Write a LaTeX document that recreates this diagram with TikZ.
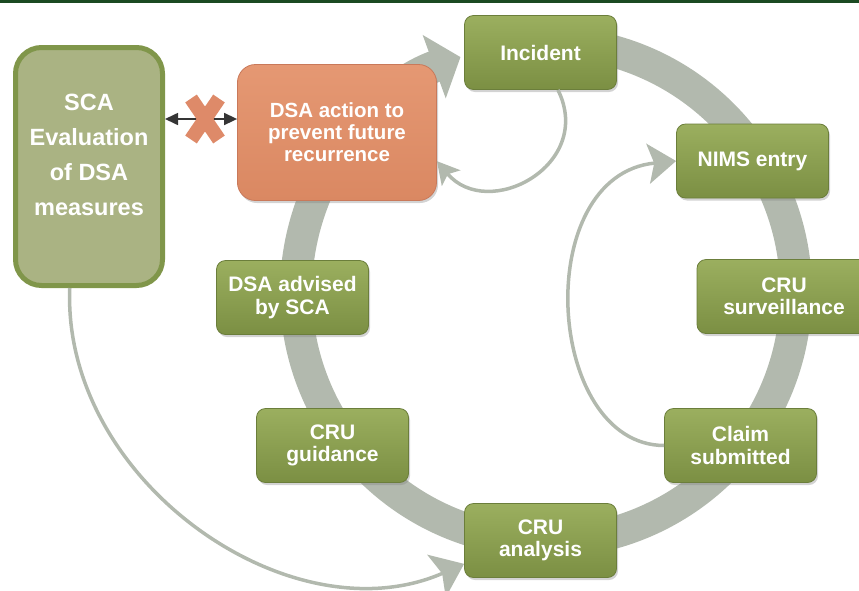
\documentclass[tikz,border=0pt]{standalone}
\usepackage{fontspec}
\setmainfont{Liberation Sans}
\usetikzlibrary{arrows.meta,shadows}
\definecolor{greentop}{HTML}{9BAF5F}
\definecolor{greenbot}{HTML}{7B8F43}
\definecolor{greenedge}{HTML}{6B7E3B}
\definecolor{palegreen}{HTML}{AAB383}
\definecolor{paleedge}{HTML}{80964A}
\definecolor{salmontop}{HTML}{E59873}
\definecolor{salmonbot}{HTML}{DA8862}
\definecolor{salmonedge}{HTML}{C9795A}
\definecolor{crosscol}{HTML}{DE8A69}
\definecolor{ringgray}{HTML}{B2B9AE}
\definecolor{linkgray}{HTML}{353535}
\definecolor{topbar}{HTML}{1B4A22}
\tikzset{
  stepbox/.style={draw=greenedge, line width=0.8pt, rounded corners=9pt,
    top color=greentop, bottom color=greenbot, text=white, align=center,
    minimum width=152pt, minimum height=74pt,
    font=\fontsize{21}{22.5}\selectfont\bfseries,
    drop shadow={opacity=0.35, shadow xshift=1.5pt, shadow yshift=-2.5pt}},
  actbox/.style={draw=salmonedge, line width=0.8pt, rounded corners=18pt,
    top color=salmontop, bottom color=salmonbot, text=white, align=center,
    minimum width=199pt, minimum height=136pt,
    font=\fontsize{20.5}{22}\selectfont\bfseries,
    drop shadow={opacity=0.35, shadow xshift=1.5pt, shadow yshift=-2.5pt}},
  scabox/.style={draw=paleedge, fill=palegreen, line width=5pt,
    rounded corners=26pt, minimum width=147pt, minimum height=238pt},
  scatext/.style={text=white, align=center,
    font=\fontsize{23.5}{35}\selectfont\bfseries},
  ring/.style={draw=ringgray, line width=32pt,
    -{Triangle[length=28pt,width=66pt]}},
  flow/.style={draw=ringgray, line width=3.5pt},
  link/.style={draw=linkgray, line width=1.6pt, <->,
    >={Triangle[length=13pt,width=12pt]}},
  cross/.style={draw=crosscol, line width=14pt}
}
\begin{document}
\begin{tikzpicture}[x=1pt,y=1pt]
\useasboundingbox (0,0) rectangle (859,-590);
\fill[topbar] (0,0) rectangle (859,-3);
% big cycle
\coordinate (hub) at (546,-292);
\draw[ring] ([shift={(80:250)}]hub) arc[start angle=80, end angle=-250, radius=250];
% boxes on the cycle
\node[stepbox] (incident) at (540.5,-52.5) {Incident};
\node[stepbox] (nims) at (752.5,-161) {NIMS entry};
\node[stepbox, minimum width=174pt] (surv) at (784,-296.5) {CRU\\surveillance};
\node[stepbox] (claim) at (740.5,-445.5) {Claim\\submitted};
\node[stepbox] (analysis) at (540.5,-540.5) {CRU\\analysis};
\node[stepbox] (guidance) at (332.5,-445.5) {CRU\\guidance};
\node[stepbox] (advised) at (292.5,-297.5) {DSA advised\\by SCA};
\node[actbox] (dsa) at (337,-132.5) {DSA action to\\prevent future\\recurrence};
% evaluation box
\node[scabox] (sca) at (89,-166.5) {};
\node[scatext] (scatext) at (89,-154.5) {SCA\\Evaluation\\of DSA\\measures};
% thin arrows
\draw[flow, -{Stealth[length=22pt,width=24pt,inset=5pt]}] (incident.-65) .. controls (595,-165) and (488,-222) .. (dsa.-16);
\draw[flow, -{Stealth[length=28pt,width=40pt,inset=6pt]}] (claim.west) .. controls (545,-445) and (530,-175) .. (nims.west);
\draw[flow, -{Stealth[length=30pt,width=46pt,inset=6pt]}] (sca.-99) .. controls (62,-480) and (290,-640) .. (analysis.197);
% crossed out link
\coordinate (xmark) at (205,-119);
\draw[link] (sca.east |- xmark) -- (dsa.west |- xmark);
\draw[cross] ([shift={(-14,20.5)}]xmark) -- ([shift={(14,-20.5)}]xmark);
\draw[cross] ([shift={(14,20.5)}]xmark) -- ([shift={(-14,-20.5)}]xmark);
\end{tikzpicture}
\end{document}
